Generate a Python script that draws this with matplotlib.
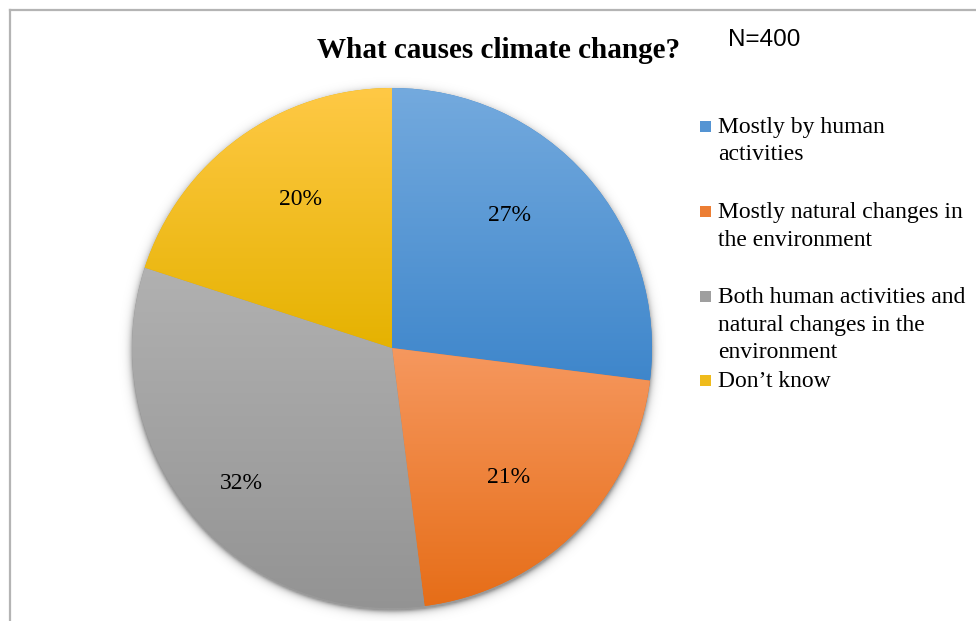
import numpy as np
import matplotlib
matplotlib.use("Agg")
import matplotlib.pyplot as plt
from matplotlib.colors import LinearSegmentedColormap, to_rgb
from matplotlib.patches import Rectangle
from matplotlib.lines import Line2D

# --- data -------------------------------------------------------------
title = "What causes climate change?"
sample_note = "N=400"
categories = [
    "Mostly by human\nactivities",
    "Mostly natural changes in\nthe environment",
    "Both human activities and\nnatural changes in the\nenvironment",
    "Don\u2019t know",
]
shares = [27, 21, 32, 20]  # percent of respondents

# gradient (top colour, bottom colour) for each slice
grad_colors = [
    ("#74AADE", "#3E86CB"),
    ("#F6985F", "#E66D17"),
    ("#B1B1B1", "#939393"),
    ("#FFC946", "#E5B200"),
]

# nudges (px) for the percentage labels, Excel-like placement
label_nudge = [(-19, 12), (-12, -1), (-10, -19), (15, 1)]

# --- canvas in pixel units ---------------------------------------------
W, H = 976, 621
fig = plt.figure(figsize=(W / 100, H / 100), dpi=100)
ax = fig.add_axes([0, 0, 1, 1])


def Y(y):
    """convert top-down pixel row to axes y"""
    return H - y


serif = "Liberation Serif"
cx, cy, R = 392, Y(348), 260

# soft drop shadow behind the pie
gx = np.linspace(cx - R - 30, cx + R + 30, 400)
gy = np.linspace(cy - R - 30, cy + R + 30, 400)
GX, GY = np.meshgrid(gx, gy)
dist = np.hypot(GX - cx, GY - (cy - 3)) - R
alpha = np.clip(0.40 * np.exp(-np.clip(dist, 0, None) / 3.2), 0, 0.40)
alpha[dist < 0] = 0.40
shadow = np.zeros((400, 400, 4))
shadow[..., 3] = alpha
ax.imshow(shadow, extent=[gx[0], gx[-1], gy[0], gy[-1]], origin="lower",
          zorder=1, interpolation="bilinear", aspect="auto")

wedges, _, autotexts = ax.pie(
    shares,
    center=(cx, cy),
    radius=R,
    startangle=90,
    counterclock=False,
    autopct=lambda p: f"{p:.0f}%",
    pctdistance=0.70,
    frame=True,
    wedgeprops=dict(linewidth=0, zorder=2),
    textprops=dict(fontfamily=serif, fontsize=17, color="black"),
)
ax.set_xlim(0, W)
ax.set_ylim(0, H)
ax.set_aspect("auto")
ax.axis("off")

# vertical gradient fill clipped to each wedge
for w, (top, bot) in zip(wedges, grad_colors):
    verts = w.get_path().vertices
    y0, y1 = verts[:, 1].min(), verts[:, 1].max()
    x0, x1 = verts[:, 0].min(), verts[:, 0].max()
    cmap = LinearSegmentedColormap.from_list("g", [bot, top])
    grad = np.linspace(0, 1, 256).reshape(-1, 1)
    im = ax.imshow(grad, cmap=cmap, extent=[x0 - 2, x1 + 2, y0 - 2, y1 + 2],
                   origin="lower", aspect="auto", zorder=3,
                   interpolation="bilinear")
    im.set_clip_path(w)
    w.set_facecolor(bot)

for t, (dx, dy) in zip(autotexts, label_nudge):
    x, y = t.get_position()
    t.set_position((x + dx, y + dy))
    t.set_zorder(5)

# title and sample size
ax.text(499, Y(50), title, fontfamily=serif, fontweight="bold", fontsize=21,
        ha="center", va="center", zorder=6)
ax.text(728, Y(40), sample_note, fontfamily="Liberation Sans", fontsize=17.5,
        ha="left", va="center", zorder=6)

# legend on the right
baselines = [133, 218, 303, 387]
line_step = 27.5
for label, (top, bot), base in zip(categories, grad_colors, baselines):
    mid = tuple(0.4 * a + 0.6 * b for a, b in zip(to_rgb(top), to_rgb(bot)))
    ax.add_patch(Rectangle((700, Y(base - 1)), 11, 11, facecolor=mid,
                           edgecolor="none", zorder=6))
    for i, line in enumerate(label.split("\n")):
        ax.text(718, Y(base + i * line_step), line, fontfamily=serif,
                fontsize=17, ha="left", va="baseline", zorder=6)

# chart frame (left and top edges)
frame_kw = dict(color="#B4B4B4", linewidth=1.6, zorder=7)
ax.add_line(Line2D([10, 10], [Y(10), 0], **frame_kw))
ax.add_line(Line2D([10, W], [Y(10), Y(10)], **frame_kw))

fig.savefig("out.png", dpi=100)
